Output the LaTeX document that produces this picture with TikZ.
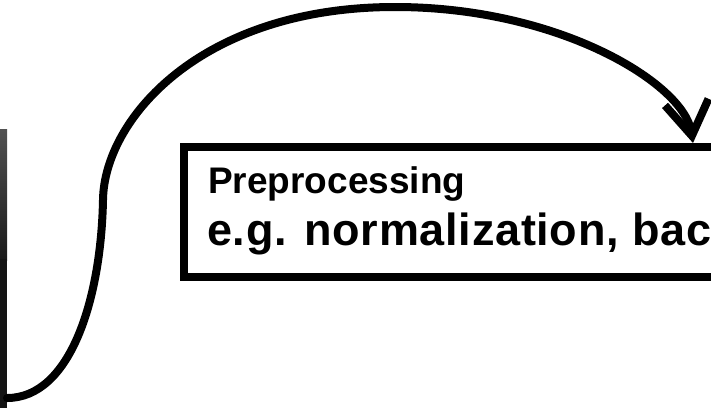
\documentclass[tikz,border=0pt]{standalone}
\usepackage{fontspec}
\setmainfont{Liberation Sans}
\usetikzlibrary{arrows.meta,calc}

\begin{document}
\begin{tikzpicture}[x=1pt,y=-1pt,
    stagebox/.style={draw, line width=8pt, rectangle, inner sep=0pt,
      minimum width=800pt, minimum height=130pt, anchor=north west},
    caption/.style={anchor=base west, inner sep=0pt},
    flow/.style={line width=8pt, line cap=round,
      -{Straight Barb[length=34pt,width=44pt,line width=8pt]}}]

  \useasboundingbox (0,0) rectangle (711,408);

  % edge of the cut-off image on the left
  \shade[top color=black!68, bottom color=black!90] (0,129) rectangle (7,260);
  \fill[black!92] (0,259) rectangle (7,408);

  \node[stagebox] (prep) at (180,143) {};
  \node[caption, font=\bfseries\fontsize{37}{44}\selectfont] (stage) at (208,193) {Preprocessing};
  \node[caption, font=\bfseries\fontsize{45}{54}\selectfont\addfontfeature{LetterSpace=1.6}] (detail) at (207,245) {e.g. normalization, bac};

  \coordinate (src) at (7,398);
  \draw[flow] (src) .. controls (70,398) and (101,300) .. (103,200)
    .. controls (104,120) and (200,7) .. (395,7)
    .. controls (560,7) and (684,84) .. ($(prep.north west)+(513,0)$);
\end{tikzpicture}
\end{document}
